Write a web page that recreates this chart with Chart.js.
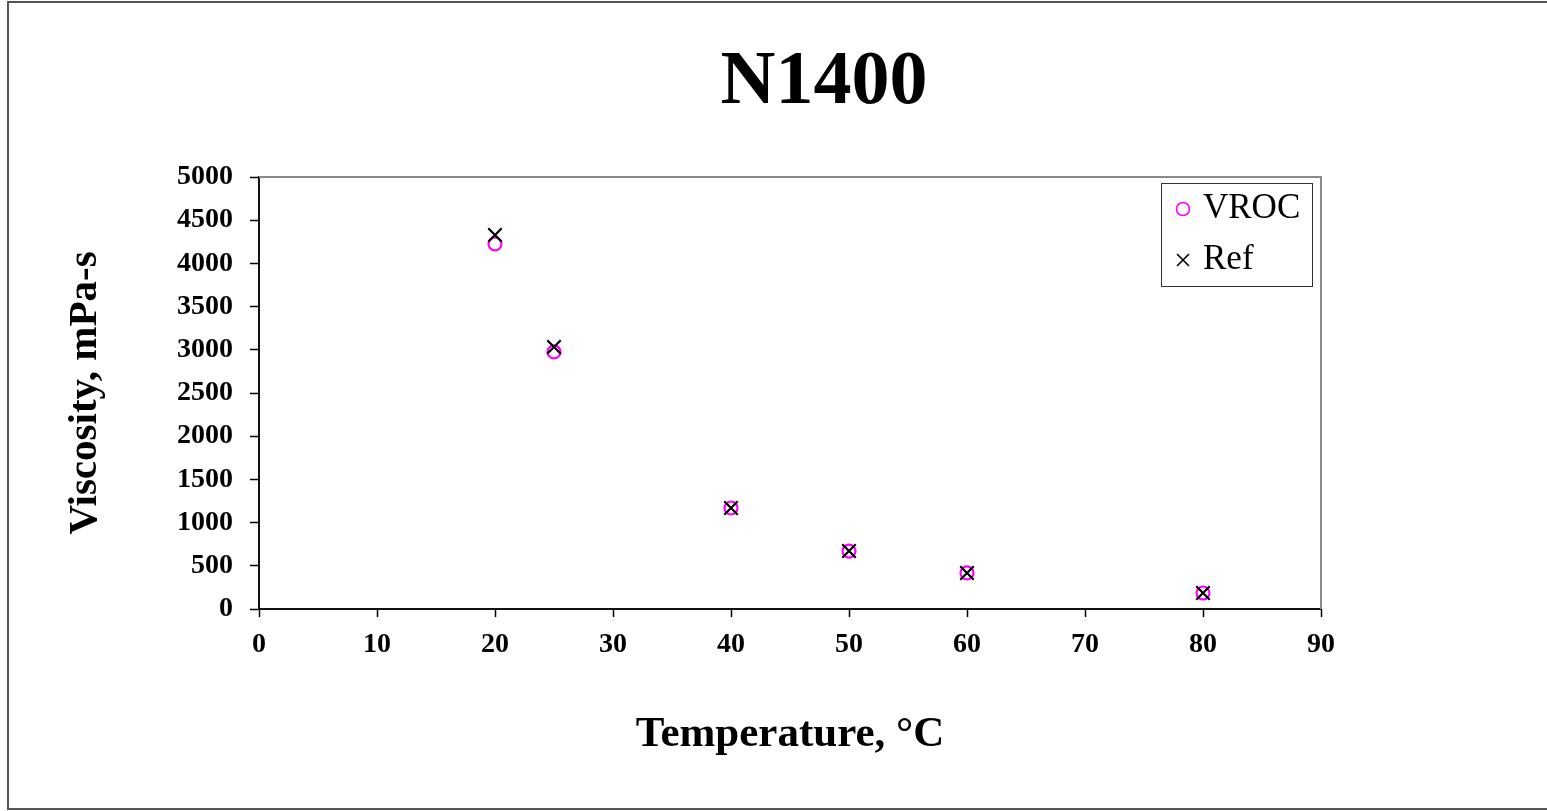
<!DOCTYPE html>
<html><head><meta charset="utf-8">
<script src="https://cdn.jsdelivr.net/npm/chart.js@4/dist/chart.umd.min.js"></script>
<style>html,body{margin:0;padding:0;background:#fff}#wrap{width:1547px;height:811px;position:relative}</style>
</head><body><div id="wrap"><canvas id="c" width="1547" height="811"></canvas></div>
<script>
const chartTitle = 'N1400';
const xAxisTitle = 'Temperature, °C';
const yAxisTitle = 'Viscosity, mPa-s';
const seriesNames = ['VROC', 'Ref'];
const temperatures = [20, 25, 40, 50, 60, 80];
const vrocValues = [4225, 2975, 1169, 671, 417, 185];
const refValues = [4329, 3032, 1169, 671, 417, 185];
const xTicks = [0, 10, 20, 30, 40, 50, 60, 70, 80, 90];
const yTicks = [0, 500, 1000, 1500, 2000, 2500, 3000, 3500, 4000, 4500, 5000];

const SERIF = '"Liberation Serif", "Times New Roman", serif';

const framePlugin = {
  id: 'frame',
  beforeDraw(chart) {
    const ctx = chart.ctx;
    ctx.save();
    ctx.fillStyle = '#fff';
    ctx.fillRect(0, 0, chart.width, chart.height);
    ctx.restore();
  },
  afterDatasetsDraw(chart) {
    const ctx = chart.ctx, a = chart.chartArea;
    ctx.save();
    ctx.strokeStyle = '#8a8a8a';
    ctx.lineWidth = 2;
    ctx.beginPath();
    ctx.moveTo(a.left, a.top);
    ctx.lineTo(a.right, a.top);
    ctx.lineTo(a.right, a.bottom);
    ctx.stroke();
    ctx.restore();
  },
  afterDraw(chart) {
    const ctx = chart.ctx;
    ctx.save();
    ctx.strokeStyle = '#555';
    ctx.lineWidth = 2;
    ctx.strokeRect(8, 2, 1550, 807);
    // legend
    const bx = 1161.5, by = 183.5, bw = 151, bh = 103;
    ctx.fillStyle = '#fff';
    ctx.fillRect(bx, by, bw, bh);
    ctx.strokeStyle = '#333';
    ctx.lineWidth = 1;
    ctx.strokeRect(bx, by, bw, bh);
    const rows = [209, 260];
    chart.data.datasets.forEach((ds, i) => {
      ctx.strokeStyle = ds.borderColor;
      ctx.lineWidth = 1.6;
      ctx.beginPath();
      if (ds.pointStyle === 'circle') {
        ctx.arc(1183, rows[i], 6.5, 0, Math.PI * 2);
      } else {
        ctx.moveTo(1177, rows[i] - 6); ctx.lineTo(1189, rows[i] + 6);
        ctx.moveTo(1189, rows[i] - 6); ctx.lineTo(1177, rows[i] + 6);
      }
      ctx.stroke();
      ctx.fillStyle = '#000';
      ctx.font = '35px ' + SERIF;
      ctx.textBaseline = 'middle';
      ctx.textAlign = 'left';
      ctx.fillText(ds.label, 1203, rows[i]);
    });
    ctx.restore();
  }
};

new Chart(document.getElementById('c'), {
  type: 'scatter',
  data: {
    datasets: [
      {
        label: seriesNames[0],
        data: temperatures.map((t, i) => ({x: t, y: vrocValues[i]})),
        pointStyle: 'circle',
        pointRadius: 6.5,
        borderColor: '#ff00ff',
        backgroundColor: 'rgba(0,0,0,0)',
        borderWidth: 2.2,
        order: 2
      },
      {
        label: seriesNames[1],
        data: temperatures.map((t, i) => ({x: t, y: refValues[i]})),
        pointStyle: 'crossRot',
        pointRadius: 9.5,
        borderColor: '#000',
        backgroundColor: '#000',
        borderWidth: 2.2,
        order: 1
      }
    ]
  },
  options: {
    responsive: false,
    animation: false,
    devicePixelRatio: 1,
    layout: {padding: {left: 101, right: 0, top: 0, bottom: 0}},
    plugins: {
      legend: {display: false},
      tooltip: {enabled: false},
      title: {
        display: true,
        text: chartTitle,
        color: '#000',
        font: {family: SERIF, size: 76, weight: 'bold', lineHeight: 1.2},
        padding: {top: 38, bottom: 47.8}
      }
    },
    scales: {
      x: {
        type: 'linear',
        position: 'bottom',
        min: 0, max: 90,
        afterBuildTicks: s => { s.ticks = xTicks.map(v => ({value: v})); },
        afterFit: s => { s.height = 202; },
        ticks: {
          color: '#000',
          font: {family: SERIF, size: 28, weight: 'bold'},
          padding: 11,
          maxRotation: 0,
          callback: v => String(v)
        },
        grid: {display: true, drawOnChartArea: false, drawTicks: true, tickLength: 8, tickColor: '#000', tickWidth: 1.5},
        border: {display: true, color: '#111', width: 2},
        title: {
          display: true,
          text: xAxisTitle,
          color: '#000',
          font: {family: SERIF, size: 43, weight: 'bold', lineHeight: 1.2},
          padding: {top: 0, bottom: 50}
        }
      },
      y: {
        type: 'linear',
        position: 'left',
        min: 0, max: 5000,
        afterBuildTicks: s => { s.ticks = yTicks.map(v => ({value: v})); },
        afterFit: s => { s.width = 158; },
        ticks: {
          color: '#000',
          font: {family: SERIF, size: 28, weight: 'bold'},
          padding: 17,
          callback: v => String(v)
        },
        grid: {display: true, drawOnChartArea: false, drawTicks: true, tickLength: 9, tickColor: '#000', tickWidth: 1.5},
        border: {display: true, color: '#111', width: 2},
        title: {
          display: true,
          text: yAxisTitle,
          color: '#000',
          font: {family: SERIF, size: 41, weight: 'bold', lineHeight: 1.2},
          padding: {top: -40.6, bottom: 0}
        }
      },
      r: {
        type: 'linear',
        position: 'right',
        display: true,
        ticks: {display: false},
        grid: {display: false},
        border: {display: false},
        afterFit: s => { s.width = 226; }
      }
    }
  },
  plugins: [framePlugin]
});
</script>
</body></html>
